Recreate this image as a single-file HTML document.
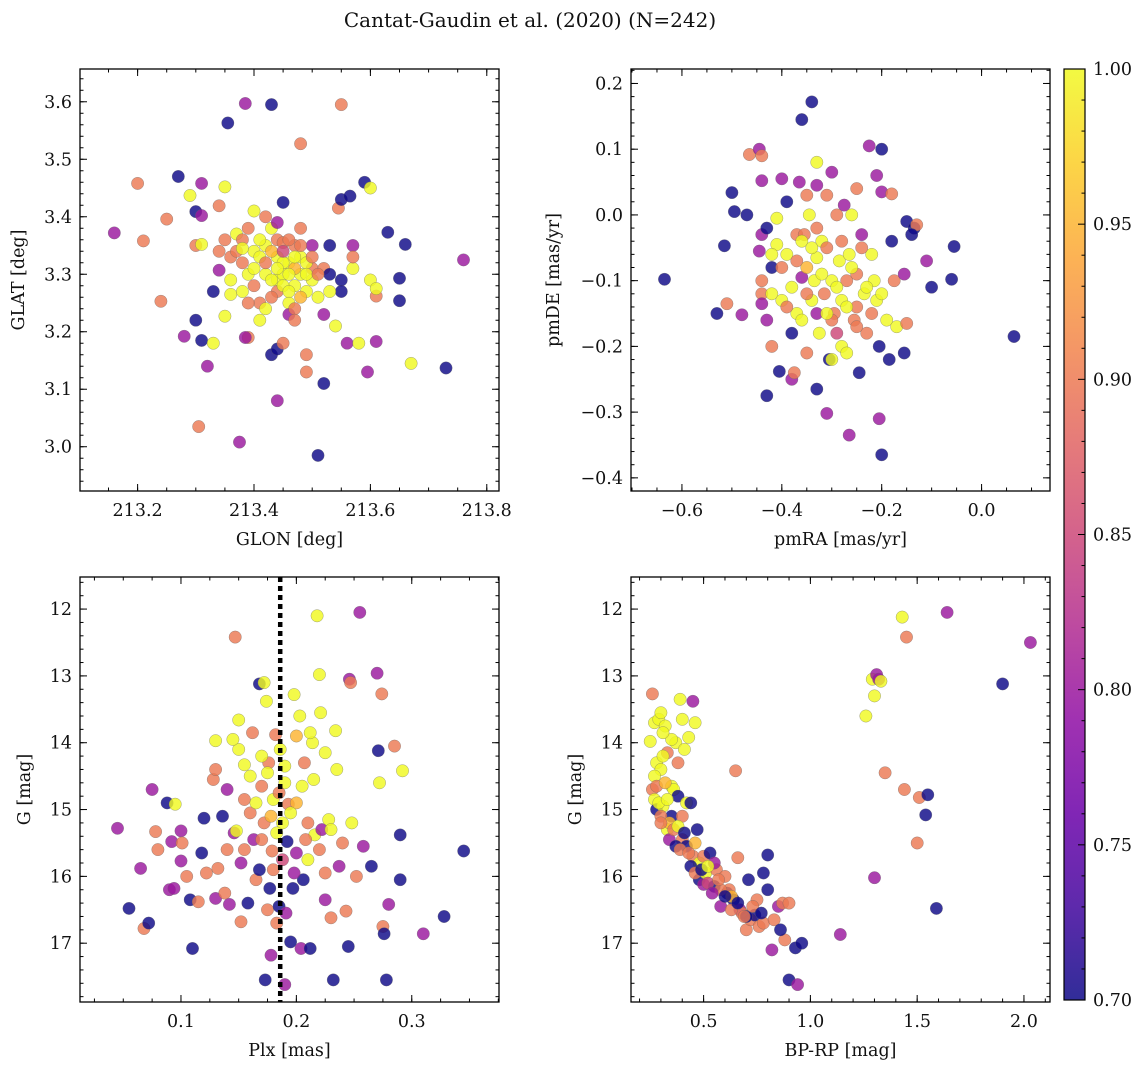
<!DOCTYPE html>
<html><head><meta charset="utf-8">
<style>
html,body{margin:0;padding:0;background:#fff;}
svg text{font-family:"DejaVu Serif","Liberation Serif",serif;fill:#111;}
</style></head>
<body>
<svg id="fig" width="1148" height="1067" viewBox="0 0 1148 1067" xmlns="http://www.w3.org/2000/svg">
<text x="530" y="27" font-size="20" text-anchor="middle">Cantat-Gaudin et al. (2020) (N=242)</text>
</svg>
<script>
// ---- data: [x, y, membership probability] ----
const glonGlat = [[213.16,3.372,0.8],[213.20,3.458,0.9],[213.21,3.358,0.9],[213.24,3.253,0.9],[213.25,3.396,0.9],[213.27,3.47,0.7],[213.28,3.192,0.8],[213.29,3.437,1],[213.30,3.409,0.7],[213.30,3.22,0.7],[213.31,3.458,0.8],[213.30,3.35,0.9],[213.31,3.352,1],[213.31,3.402,0.8],[213.31,3.185,0.7],[213.32,3.14,0.8],[213.305,3.035,0.9],[213.33,3.27,0.7],[213.33,3.18,1],[213.34,3.307,0.8],[213.34,3.419,0.9],[213.35,3.36,0.9],[213.35,3.452,1],[213.35,3.227,1],[213.36,3.265,1],[213.355,3.563,0.7],[213.36,3.33,0.9],[213.37,3.37,1],[213.38,3.36,0.9],[213.38,3.32,0.9],[213.375,3.008,0.8],[213.385,3.597,0.8],[213.39,3.19,0.9],[213.385,3.19,0.8],[213.39,3.30,1],[213.40,3.28,0.9],[213.40,3.41,1],[213.40,3.34,1],[213.41,3.22,1],[213.41,3.25,0.9],[213.42,3.30,1],[213.42,3.40,0.9],[213.43,3.595,0.7],[213.43,3.16,0.7],[213.43,3.38,1],[213.44,3.36,0.9],[213.44,3.33,1],[213.44,3.29,1],[213.44,3.27,0.9],[213.44,3.17,0.7],[213.44,3.08,0.8],[213.45,3.425,0.7],[213.45,3.355,0.9],[213.45,3.30,1],[213.45,3.18,0.9],[213.46,3.32,1],[213.46,3.25,1],[213.46,3.23,0.8],[213.47,3.35,0.9],[213.47,3.28,1],[213.47,3.24,0.9],[213.48,3.527,0.9],[213.48,3.33,1],[213.48,3.30,1],[213.48,3.38,0.9],[213.49,3.27,1],[213.49,3.16,0.9],[213.49,3.13,0.9],[213.50,3.31,0.9],[213.50,3.29,1],[213.50,3.35,0.8],[213.51,3.26,1],[213.51,2.985,0.7],[213.52,3.31,0.9],[213.52,3.11,0.7],[213.52,3.23,0.8],[213.53,3.35,0.7],[213.53,3.30,0.7],[213.54,3.21,1],[213.545,3.415,0.9],[213.55,3.43,0.7],[213.55,3.595,0.9],[213.55,3.29,0.7],[213.55,3.27,0.7],[213.56,3.18,0.8],[213.565,3.436,0.7],[213.57,3.35,0.8],[213.57,3.31,1],[213.57,3.33,0.9],[213.58,3.18,1],[213.59,3.46,0.7],[213.595,3.13,0.8],[213.60,3.45,1],[213.60,3.29,1],[213.61,3.262,0.9],[213.61,3.275,1],[213.61,3.183,0.8],[213.63,3.373,0.7],[213.65,3.293,0.7],[213.65,3.254,0.7],[213.66,3.352,0.7],[213.67,3.145,1],[213.73,3.137,0.7],[213.76,3.325,0.8],[213.42,3.35,1],[213.45,3.32,1],[213.47,3.31,0.95],[213.43,3.26,0.9],[213.38,3.27,1],[213.46,3.30,1],[213.41,3.33,1],[213.49,3.32,1],
[213.36,3.29,1],[213.37,3.34,0.9],[213.39,3.38,0.9],[213.41,3.36,1],[213.42,3.32,0.9],[213.43,3.29,1],[213.43,3.34,0.95],[213.44,3.31,1],[213.45,3.28,1],[213.45,3.34,0.85],[213.46,3.36,0.9],[213.46,3.27,1],[213.47,3.33,1],[213.48,3.26,0.95],[213.48,3.35,0.9],[213.49,3.30,1],[213.50,3.33,0.9],[213.51,3.30,0.9],[213.40,3.31,1],[213.39,3.25,0.9],[213.42,3.24,1],[213.44,3.39,0.8],[213.47,3.22,0.9],[213.38,3.345,1],[213.34,3.34,0.9],[213.53,3.27,1]];
const pmraPmde = [[-0.635,-0.098,0.7],[-0.53,-0.15,0.7],[-0.515,-0.047,0.7],[-0.50,0.034,0.7],[-0.495,0.005,0.7],[-0.51,-0.135,0.9],[-0.48,-0.152,0.8],[-0.47,0.0,0.7],[-0.465,0.092,0.9],[-0.445,0.10,0.8],[-0.44,0.09,0.9],[-0.44,0.052,0.8],[-0.44,-0.03,0.8],[-0.445,-0.055,0.8],[-0.44,-0.10,0.9],[-0.44,-0.12,0.9],[-0.44,-0.135,0.8],[-0.43,-0.16,0.8],[-0.43,-0.275,0.7],[-0.43,-0.02,0.7],[-0.42,-0.08,0.7],[-0.42,-0.2,0.9],[-0.42,-0.12,1],[-0.41,-0.005,1],[-0.41,-0.045,1],[-0.405,-0.238,0.7],[-0.40,-0.08,0.9],[-0.40,0.055,0.8],[-0.40,-0.13,1],[-0.39,-0.06,1],[-0.39,0.02,0.7],[-0.38,-0.25,0.8],[-0.38,-0.18,0.7],[-0.375,-0.24,0.9],[-0.37,-0.03,0.9],[-0.37,-0.15,1],[-0.365,0.05,0.8],[-0.36,0.145,0.7],[-0.36,-0.095,0.8],[-0.355,-0.03,0.9],[-0.35,-0.21,0.9],[-0.35,0.03,0.9],[-0.345,0.0,1],[-0.34,0.172,0.7],[-0.34,-0.13,1],[-0.335,-0.1,1],[-0.33,0.08,1],[-0.33,0.045,0.8],[-0.33,-0.065,1],[-0.33,-0.265,0.7],[-0.325,-0.18,1],[-0.32,-0.04,1],[-0.315,-0.12,0.9],[-0.31,-0.302,0.8],[-0.31,0.03,0.9],[-0.305,-0.22,0.7],[-0.30,0.065,0.8],[-0.30,-0.1,1],[-0.30,-0.22,1],[-0.295,-0.15,0.9],[-0.29,0.0,0.9],[-0.285,-0.07,1],[-0.28,-0.13,1],[-0.28,-0.2,1],[-0.275,0.015,0.8],[-0.27,-0.1,0.9],[-0.265,-0.335,0.8],[-0.265,-0.06,1],[-0.26,0.0,1],[-0.255,-0.16,0.9],[-0.25,0.04,0.9],[-0.25,-0.09,0.9],[-0.245,-0.24,0.7],[-0.24,-0.03,0.8],[-0.235,-0.12,1],[-0.23,-0.18,0.9],[-0.225,0.105,0.8],[-0.22,-0.06,1],[-0.215,-0.1,1],[-0.21,-0.13,1],[-0.21,0.06,0.8],[-0.205,-0.31,0.8],[-0.205,-0.2,0.7],[-0.2,0.1,0.7],[-0.2,-0.365,0.7],[-0.2,0.035,0.8],[-0.19,-0.16,1],[-0.185,-0.22,0.7],[-0.18,-0.04,0.7],[-0.18,0.032,0.9],[-0.175,-0.1,0.9],[-0.17,-0.17,1],[-0.155,-0.21,0.7],[-0.155,-0.09,0.8],[-0.15,-0.165,0.9],[-0.15,-0.01,0.7],[-0.135,-0.02,0.7],[-0.13,-0.015,0.9],[-0.11,-0.07,0.8],[-0.10,-0.11,0.7],[-0.06,-0.098,0.7],[-0.055,-0.048,0.7],[0.065,-0.185,0.7],[-0.25,-0.14,0.9],[-0.36,-0.04,1],[-0.30,-0.16,0.9],[-0.27,-0.21,1],[-0.33,-0.15,0.8],[-0.14,-0.03,0.7],
[-0.38,-0.11,1],[-0.37,-0.07,0.9],[-0.36,-0.16,1],[-0.35,-0.12,0.9],[-0.34,-0.05,1],[-0.33,-0.02,0.9],[-0.32,-0.09,1],[-0.31,-0.15,1],[-0.31,-0.05,0.9],[-0.29,-0.11,1],[-0.28,-0.04,0.9],[-0.27,-0.14,1],[-0.26,-0.08,1],[-0.25,-0.17,0.9],[-0.24,-0.05,0.9],[-0.23,-0.11,1],[-0.22,-0.15,0.9],[-0.20,-0.12,1],[-0.39,-0.14,0.9],[-0.42,-0.06,1],[-0.29,-0.18,0.85],[-0.35,-0.08,0.95]];
const plxG = [[0.045,15.28,0.8],[0.055,16.48,0.7],[0.065,15.88,0.8],[0.068,16.78,0.9],[0.072,16.7,0.7],[0.075,14.7,0.8],[0.078,15.33,0.9],[0.08,15.6,0.9],[0.088,14.9,0.7],[0.092,15.48,0.8],[0.09,16.2,0.8],[0.095,14.92,1],[0.094,16.18,0.8],[0.1,15.32,0.8],[0.1,15.77,0.8],[0.101,15.5,0.9],[0.105,16.0,0.9],[0.108,16.35,0.7],[0.11,17.08,0.7],[0.115,16.38,0.9],[0.118,15.65,0.7],[0.12,15.13,0.7],[0.122,15.95,0.9],[0.128,14.55,0.9],[0.13,13.97,1],[0.13,14.4,0.9],[0.13,16.33,0.8],[0.132,15.88,0.9],[0.136,15.1,0.7],[0.138,16.25,0.9],[0.14,14.7,0.8],[0.142,16.42,0.8],[0.146,15.35,0.8],[0.147,12.42,0.9],[0.148,15.32,1],[0.15,13.66,1],[0.15,14.1,1],[0.152,15.8,0.8],[0.152,16.68,0.9],[0.155,14.33,1],[0.155,14.85,0.9],[0.158,16.4,0.7],[0.16,14.5,1],[0.162,13.85,0.9],[0.163,15.45,0.8],[0.165,16.05,0.9],[0.168,15.9,0.7],[0.168,13.12,0.7],[0.17,14.65,0.9],[0.172,13.1,1],[0.172,15.2,0.9],[0.173,17.55,0.7],[0.174,13.38,1],[0.175,16.5,0.9],[0.176,14.3,0.9],[0.177,16.18,0.7],[0.178,17.18,0.8],[0.179,15.62,0.9],[0.18,14.85,1],[0.182,13.88,0.9],[0.183,16.7,0.9],[0.185,16.45,0.7],[0.186,14.1,1],[0.188,15.2,1],[0.19,17.62,0.8],[0.191,16.55,0.8],[0.192,15.48,0.7],[0.193,14.92,0.9],[0.195,16.98,0.7],[0.197,16.18,0.7],[0.198,13.28,1],[0.2,15.65,0.8],[0.203,13.6,1],[0.204,17.08,0.8],[0.206,16.05,0.7],[0.207,14.3,0.9],[0.21,15.75,1],[0.212,17.08,0.7],[0.214,14.0,1],[0.216,15.38,1],[0.218,12.1,1],[0.22,12.98,1],[0.221,13.55,1],[0.222,15.3,0.8],[0.225,16.35,0.8],[0.228,15.15,1],[0.23,16.62,0.9],[0.232,17.55,0.7],[0.234,13.82,1],[0.235,14.4,1],[0.237,15.85,0.8],[0.24,15.5,0.9],[0.243,16.52,0.9],[0.245,17.05,0.7],[0.246,13.05,0.8],[0.247,13.1,0.9],[0.248,15.2,1],[0.252,16.0,0.9],[0.255,12.05,0.8],[0.258,15.55,0.8],[0.265,15.85,0.7],[0.27,12.96,0.8],[0.271,14.12,0.7],[0.272,14.6,1],[0.274,13.27,0.9],[0.275,16.75,0.9],[0.276,16.86,0.7],[0.278,17.55,0.7],[0.28,16.42,0.8],[0.285,14.05,0.9],[0.29,15.38,0.7],[0.292,14.42,1],[0.29,16.05,0.7],[0.31,16.86,0.8],[0.328,16.6,0.7],[0.345,15.62,0.7],[0.19,14.6,1],[0.2,14.9,0.95],[0.18,15.9,0.9],[0.21,15.2,0.9],[0.17,14.2,1],[0.2,13.9,0.95],
[0.16,15.05,0.9],[0.165,14.9,1],[0.17,15.45,0.9],[0.175,14.45,1],[0.178,15.1,0.95],[0.183,15.35,1],[0.185,14.75,0.9],[0.188,15.75,0.85],[0.19,14.35,1],[0.195,15.05,1],[0.198,15.95,0.8],[0.205,14.65,1],[0.208,15.45,0.9],[0.212,13.85,1],[0.215,14.55,1],[0.22,15.6,0.9],[0.225,14.15,1],[0.23,15.3,1],[0.14,15.6,0.9],[0.145,13.95,1],[0.155,15.6,0.9],[0.225,15.95,0.9]];
const colorG = [[0.26,13.27,0.9],[0.25,13.98,1],[0.27,13.7,1],[0.29,13.65,1],[0.3,13.55,1],[0.28,14.3,1],[0.26,14.7,0.9],[0.27,14.85,1],[0.28,15.0,0.7],[0.3,14.4,1],[0.31,14.95,1],[0.32,13.75,1],[0.33,14.15,0.9],[0.33,15.3,1],[0.35,14.65,1],[0.35,15.1,0.7],[0.36,14.7,1],[0.37,14.0,1],[0.38,14.3,0.9],[0.39,13.35,1],[0.38,14.8,0.7],[0.4,15.45,0.9],[0.41,14.1,1],[0.42,14.9,1],[0.42,15.55,0.7],[0.43,13.92,1],[0.44,14.9,0.7],[0.45,15.7,0.9],[0.45,13.38,0.8],[0.46,13.7,1],[0.47,15.3,0.7],[0.48,15.8,1],[0.48,16.05,0.7],[0.5,15.7,0.9],[0.5,16.12,0.8],[0.51,15.95,1],[0.53,15.65,0.7],[0.55,16.15,0.7],[0.56,15.9,0.9],[0.58,16.45,0.8],[0.6,16.0,0.9],[0.61,16.25,0.7],[0.62,16.2,0.9],[0.64,16.35,0.7],[0.65,14.42,0.9],[0.66,15.72,0.9],[0.67,16.5,0.8],[0.68,16.55,0.9],[0.7,16.8,0.9],[0.71,16.05,0.7],[0.72,16.65,0.9],[0.74,16.58,0.7],[0.75,16.35,0.9],[0.76,16.75,0.9],[0.78,15.95,0.7],[0.78,16.7,0.9],[0.8,16.2,0.7],[0.82,17.1,0.8],[0.8,15.68,0.7],[0.85,16.45,0.8],[0.87,16.4,0.9],[0.88,16.95,0.9],[0.9,16.4,0.9],[0.9,17.55,0.7],[0.93,17.07,0.7],[0.94,17.62,0.8],[0.96,17.0,0.7],[1.14,16.87,0.8],[1.26,13.6,1],[1.29,13.05,1],[1.3,13.3,1],[1.3,16.02,0.8],[1.31,12.98,0.8],[1.32,13.05,0.8],[1.33,13.08,1],[1.35,14.45,0.9],[1.43,12.12,1],[1.44,14.7,0.9],[1.45,12.42,0.9],[1.5,15.5,0.9],[1.51,14.82,0.9],[1.54,15.08,0.7],[1.55,14.78,0.7],[1.59,16.48,0.7],[1.64,12.05,0.8],[1.9,13.12,0.7],[2.03,12.5,0.8],[0.3,15.1,0.9],[0.34,15.2,0.95],[0.4,15.1,0.9],[0.52,16.1,0.85],[0.58,16.2,0.9],[0.63,16.3,0.95],[0.7,16.6,0.7],[0.46,15.5,0.95],[0.55,15.8,0.8],
[0.27,14.5,1],[0.28,14.65,0.9],[0.29,14.9,1],[0.3,15.2,0.9],[0.31,14.2,1],[0.32,14.6,0.95],[0.33,14.85,1],[0.34,15.45,0.8],[0.36,15.3,0.9],[0.37,15.55,0.7],[0.38,15.25,1],[0.39,15.6,0.9],[0.41,15.35,0.7],[0.43,15.65,0.9],[0.44,15.85,0.7],[0.46,15.95,0.9],[0.49,15.9,0.7],[0.52,15.85,1],[0.54,16.25,0.8],[0.57,16.05,0.9],[0.6,16.3,0.7],[0.63,16.5,0.9],[0.66,16.4,0.7],[0.69,16.6,0.9],[0.73,16.45,0.9],[0.77,16.55,0.7],[0.83,16.65,0.9],[0.86,16.8,0.7],[0.35,13.95,1],[0.4,13.65,1],[0.31,13.85,1]];
const plxMedian = [0.186];
const p1xTicks=["213.2","213.4","213.6","213.8"], p1yTicks=["3.0","3.1","3.2","3.3","3.4","3.5","3.6"];
const p2xTicks=["\u22120.6","\u22120.4","\u22120.2","0.0"], p2yTicks=["\u22120.4","\u22120.3","\u22120.2","\u22120.1","0.0","0.1","0.2"];
const p3xTicks=["0.1","0.2","0.3"], gTicks=["12","13","14","15","16","17"];
const p4xTicks=["0.5","1.0","1.5","2.0"];
const cbTicks=["0.70","0.75","0.80","0.85","0.90","0.95","1.00"];

const NS="http://www.w3.org/2000/svg";
const svg=document.getElementById('fig');
function mk(tag,attrs,parent){const e=document.createElementNS(NS,tag);for(const k in attrs)e.setAttribute(k,attrs[k]);(parent||svg).appendChild(e);return e;}
const stops=[[0,"#0d0887"],[0.1,"#41049d"],[0.2,"#6a00a8"],[0.3,"#8f0da4"],[0.4,"#b12a90"],[0.5,"#cc4778"],[0.6,"#e16462"],[0.7,"#f2844b"],[0.8,"#fca636"],[0.9,"#fcce25"],[1,"#f0f921"]];
function hx(h){return [1,3,5].map(i=>parseInt(h.substr(i,2),16));}
function plasma(t){t=Math.max(0,Math.min(1,t));for(let i=1;i<stops.length;i++){if(t<=stops[i][0]){const a=stops[i-1],b=stops[i];const f=(t-a[0])/(b[0]-a[0]);const ca=hx(a[1]),cb=hx(b[1]);return "rgb("+ca.map((v,j)=>Math.round(v+(cb[j]-v)*f)).join(",")+")";}}return stops[stops.length-1][1];}
function pc(p){return plasma((p-0.7)/0.3);}

function panel(cfg){
  const g=mk('g',{});
  
  
  const {L,R,T,B,x0,x1,y0,y1}=cfg;
  const sx=v=>L+(v-x0)/(x1-x0)*(R-L);
  const sy=v=>cfg.invert? T+(v-y0)/(y1-y0)*(B-T) : B-(v-y0)/(y1-y0)*(B-T);
  const clip=mk('clipPath',{id:'c'+cfg.name},g);mk('rect',{x:L,y:T,width:R-L,height:B-T},clip);
  const pts=mk('g',{'clip-path':'url(#c'+cfg.name+')'},g);
  
  
  cfg.data.forEach(d=>{
    const c=mk('circle',{cx:sx(d[0]).toFixed(1),cy:sy(d[1]).toFixed(1),r:6.2,fill:pc(d[2]),'fill-opacity':0.82,stroke:'#666','stroke-width':0.5,'stroke-opacity':0.6},pts);
    
    
  });
  if(cfg.vline){cfg.vline.forEach(v=>{const l=mk('line',{x1:sx(v),x2:sx(v),y1:T,y2:B,stroke:'#000','stroke-width':4.5,'stroke-dasharray':'5,4'},g);
    
    });}
  mk('rect',{x:L,y:T,width:R-L,height:B-T,fill:'none',stroke:'#000','stroke-width':1.3},g);
  const tk=mk('g',{stroke:'#000','stroke-width':1},g);
  function ticks(lo,hi,step,len,isX){
    const n0=Math.ceil(lo/step-1e-6),n1=Math.floor(hi/step+1e-6);
    for(let n=n0;n<=n1;n++){const v=n*step;
      if(isX){const x=sx(v);mk('line',{x1:x,x2:x,y1:B,y2:B-len},tk);mk('line',{x1:x,x2:x,y1:T,y2:T+len},tk);}
      else{const y=sy(v);mk('line',{x1:L,x2:L+len,y1:y,y2:y},tk);mk('line',{x1:R,x2:R-len,y1:y,y2:y},tk);}
    }}
  ticks(x0,x1,cfg.xmaj,7,true);ticks(x0,x1,cfg.xmin,3.5,true);
  ticks(Math.min(y0,y1),Math.max(y0,y1),cfg.ymaj,7,false);ticks(Math.min(y0,y1),Math.max(y0,y1),cfg.ymin,3.5,false);
  cfg.xlabs.forEach((s,i)=>{const v=cfg.xstart+i*cfg.xmaj;const t=mk('text',{x:sx(v),y:B+25,'font-size':17.5,'text-anchor':'middle'},g);t.textContent=s;
    });
  cfg.ylabs.forEach((s,i)=>{const v=cfg.ystart+i*cfg.ymaj;const t=mk('text',{x:L-8,y:sy(v)+6,'font-size':17.5,'text-anchor':'end'},g);t.textContent=s;
    });
  const xt=mk('text',{x:(L+R)/2,y:B+54,'font-size':17.5,'text-anchor':'middle'},g);xt.textContent=cfg.xtitle;
  
  const yx=cfg.ytx, yy=(T+B)/2;
  const yt=mk('text',{x:yx,y:yy,'font-size':17.5,'text-anchor':'middle',transform:'rotate(-90 '+yx+' '+yy+')'},g);yt.textContent=cfg.ytitle;
  
}
panel({name:'glon-glat-panel',L:80,R:499,T:69,B:491,x0:213.101,x1:213.821,y0:2.923,y1:3.657,xmaj:0.2,xmin:0.05,ymaj:0.1,ymin:0.02,xlabs:p1xTicks,xstart:213.2,ylabs:p1yTicks,ystart:3.0,xtitle:'GLON [deg]',ytitle:'GLAT [deg]',ytx:24,data:glonGlat});
panel({name:'proper-motion-panel',L:631,R:1050,T:69,B:491,x0:-0.702,x1:0.137,y0:-0.420,y1:0.222,xmaj:0.2,xmin:0.05,ymaj:0.1,ymin:0.02,xlabs:p2xTicks,xstart:-0.6,ylabs:p2yTicks,ystart:-0.4,xtitle:'pmRA [mas/yr]',ytitle:'pmDE [mas/yr]',ytx:559,data:pmraPmde});
panel({name:'parallax-mag-panel',L:80,R:499,T:577,B:1002,x0:0.0125,x1:0.3756,y0:11.52,y1:17.88,invert:true,xmaj:0.1,xmin:0.025,ymaj:1,ymin:0.2,xlabs:p3xTicks,xstart:0.1,ylabs:gTicks,ystart:12,xtitle:'Plx [mas]',ytitle:'G [mag]',ytx:30,data:plxG,vline:plxMedian});
panel({name:'cmd-panel',L:631,R:1050,T:577,B:1002,x0:0.16,x1:2.122,y0:11.52,y1:17.88,invert:true,xmaj:0.5,xmin:0.1,ymaj:1,ymin:0.2,xlabs:p4xTicks,xstart:0.5,ylabs:gTicks,ystart:12,xtitle:'BP-RP [mag]',ytitle:'G [mag]',ytx:581,data:colorG});

// colorbar
(function(){
  const L=1064,R=1085,T=69,B=1000;
  const cb=mk('g',{});
  
  
  const defs=mk('defs',{},cb);
  const lg=mk('linearGradient',{id:'cbg',x1:0,y1:1,x2:0,y2:0},defs);
  for(let i=0;i<=20;i++){mk('stop',{offset:(i/20),'stop-color':plasma(i/20),'stop-opacity':0.85},lg);}
  mk('rect',{x:L,y:T,width:R-L,height:B-T,fill:'url(#cbg)',stroke:'#000','stroke-width':1.2},cb);
  const sy=v=>B-(v-0.7)/0.3*(B-T);
  for(let i=0;i<=30;i++){const v=0.7+i*0.01;const y=sy(v);const maj=i%5===0;mk('line',{x1:R,x2:R-(maj?7:3.5),y1:y,y2:y,stroke:'#000','stroke-width':1},cb);}
  cbTicks.forEach((s,i)=>{const t=mk('text',{x:R+8,y:sy(0.7+i*0.05)+6,'font-size':17.5},cb);t.textContent=s;
    });
})();
</script>
</body></html>
